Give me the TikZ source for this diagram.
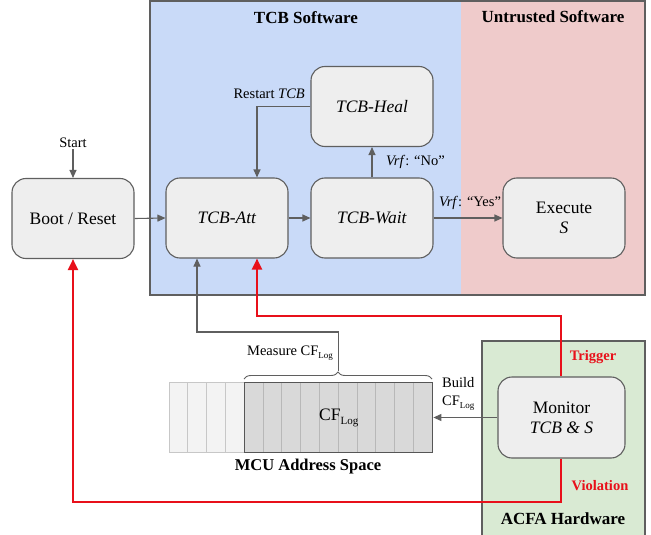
\documentclass[tikz,border=0pt]{standalone}
\usepackage{fontspec}
\setmainfont{LiberationSerif}[Extension=.ttf,UprightFont=*-Regular,BoldFont=*-Bold,ItalicFont=*-Italic,BoldItalicFont=*-BoldItalic]
\usetikzlibrary{arrows.meta,decorations.pathreplacing,calc}
\definecolor{tcbblue}{HTML}{C9DAF8}
\definecolor{untpink}{HTML}{EFCBCB}
\definecolor{acfagreen}{HTML}{D9EAD3}
\definecolor{boxfill}{HTML}{EEEEEE}
\definecolor{edge}{HTML}{5F5F5F}
\definecolor{alarm}{HTML}{E8101A}
\definecolor{cellfree}{HTML}{F3F3F3}
\definecolor{celllog}{HTML}{D9D9D9}
\newcommand{\cfsub}[1]{CF\raisebox{-0.55ex}{\fontsize{#1}{#1}\selectfont Log}}
\begin{document}
\begin{tikzpicture}[x=1pt,y=-1pt,
 state/.style={draw=edge,fill=boxfill,line width=1.1pt,rounded corners=14pt,minimum width=122pt,minimum height=80pt,inner sep=0pt,font=\fontsize{17.5}{21}\selectfont,align=center},
 flow/.style={draw=edge,line width=1.1pt,-{Triangle[length=8pt,width=7pt]}},
 alarmflow/.style={draw=alarm,line width=2.2pt,-{Triangle[length=11pt,width=10pt]}},
 panel/.style={draw=edge,line width=1.8pt},
 title/.style={font=\fontsize{17}{20}\selectfont\bfseries,inner sep=0pt},
 lbl/.style={font=\fontsize{14.5}{17}\selectfont,inner sep=1pt},
 alarmlbl/.style={font=\fontsize{14.5}{17}\selectfont\bfseries,text=alarm,inner sep=1pt},
]
\useasboundingbox (0,0) rectangle (651,535);
% panels
\fill[tcbblue] (150,1) rectangle (461,295);
\fill[untpink] (461,1) rectangle (645,295);
\draw[panel] (150,1) rectangle (645,295);
\fill[acfagreen] (482,341) rectangle (645,540);
\draw[panel] (482,541) -- (482,341) -- (645,341) -- (645,541);
\node[title] (tcbt) at (306,18) {TCB Software};
\node[title] (untt) at (553,17) {Untrusted Software};
\node[title] (acfat) at (563,519) {ACFA Hardware};

% states
\node[state] (boot) at (73,218.5) {Boot / Reset};
\node[state] (att) at (227,218) {\textit{TCB-Att}};
\node[state] (wait) at (372,218) {\textit{TCB-Wait}};
\node[state] (heal) at (372,106.5) {\textit{TCB-Heal}};
\node[state] (exec) at (564,218) {Execute\\[-1pt]\textit{S}};
\node[state,minimum width=127pt,minimum height=81pt] (mon) at (561.5,417.5) {Monitor\\[-1pt]\textit{TCB \& S}};

% memory
\foreach \i in {0,...,3}
  \fill[cellfree,draw=black!22,line width=0.6pt] (169+18.75*\i,382) rectangle ++(18.75,70);
\foreach \i in {0,...,9}
  \fill[celllog,draw=black!28,line width=0.6pt] (244+18.8*\i,382) rectangle ++(18.8,70);
\node[draw=edge!90!black,line width=1.4pt,minimum width=188pt,minimum height=70pt,inner sep=0pt,anchor=north west,font=\fontsize{17.5}{21}\selectfont] (log) at (244,382) {\raisebox{-2pt}{\cfsub{11}}};
\node[font=\fontsize{16.5}{20}\selectfont\bfseries,inner sep=0pt] (mcu) at (308,467) {MCU Address Space};

% brace
\draw[edge,line width=0.9pt,decorate,decoration={brace,amplitude=7pt}] (244,379) -- (432,379);
\coordinate (bracetip) at (338.5,371);
\node[lbl] (meas) at (290,353) {Measure \cfsub{9}};

% start
\node[lbl] (start) at (73,143) {Start};
\draw[flow] (start.south) -- (boot.north);

% flows
\draw[flow] (boot.east) -- (att.west);
\draw[flow] (att.east) -- (wait.west);
\draw[flow] (wait.east) -- (exec.west);
\node[lbl,anchor=south] (yes) at (470,211) {\textit{Vrf}: “Yes”};
\draw[flow] (wait.north) -- (heal.south);
\node[lbl,anchor=west] (no) at (385,162) {\textit{Vrf}: “No”};
\draw[flow] (heal.west) -- (257,106.5) -- (att.north -| 257,0);
\node[lbl,anchor=south east] (restart) at (306,100) {Restart \textit{TCB}};

\draw[flow] (bracetip) -- (338.5,332) -- (197,332) -- (att.south -| 197,0);

\draw[flow] (mon.west) -- (mon.west -| log.east);
\node[lbl,anchor=west,align=left] (build) at (441,394) {Build\\[1pt]\cfsub{9}};

% alarms
\draw[alarmflow] (mon.north -| 561,0) -- (561,316) -- (257,316) -- (att.south -| 257,0);
\draw[alarmflow] (mon.south -| 561,0) -- (561,502) -- (73,502) -- (boot.south);
\node[alarmlbl] (trig) at (593,357) {Trigger};
\node[alarmlbl] (viol) at (600,486) {Violation};
\end{tikzpicture}
\end{document}
